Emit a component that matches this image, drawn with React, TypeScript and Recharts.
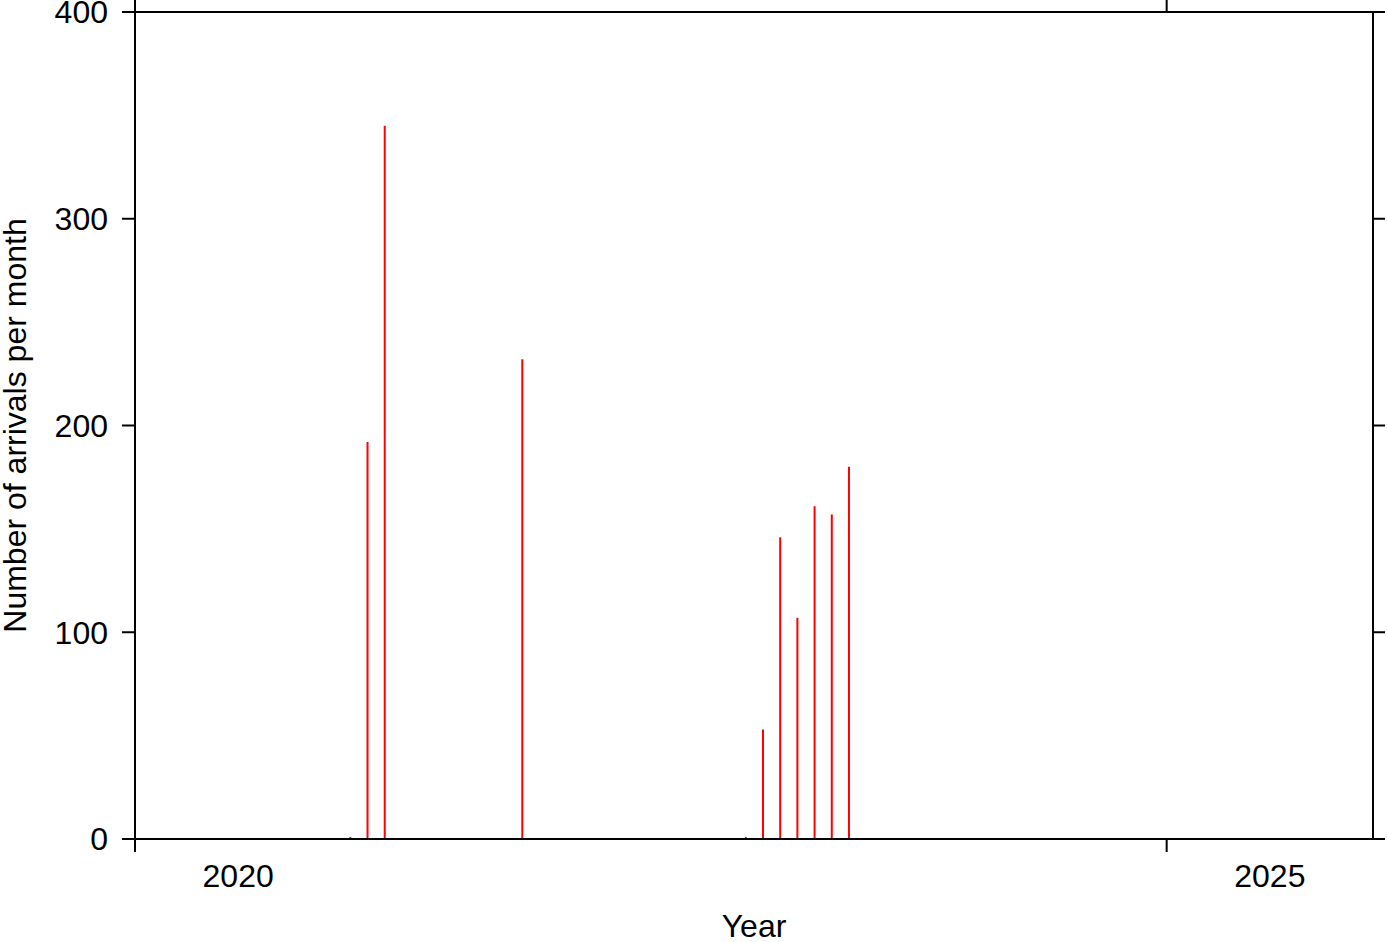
import { Bar, BarChart, XAxis, YAxis } from "recharts";

// monthly arrival counts (only months with arrivals)
const months = ["2021-01", "2021-02", "2021-03", "2021-11", "2022-12", "2023-01", "2023-02", "2023-03", "2023-04", "2023-05", "2023-06"];
const counts = [1, 192, 345, 232, 1, 53, 146, 107, 161, 157, 180];

const yTicks = [0, 100, 200, 300, 400];
const yearTicks = [2020, 2025];
const yearLabelTicks = [2020.5, 2025.5];

const toDecimalYear = (ym: string) => {
  const [y, m] = ym.split("-").map(Number);
  return y + (m - 0.5) / 12;
};

const data = months.map((m, i) => ({ t: toDecimalYear(m), n: counts[i] }));

const FONT = "'Liberation Sans', Arial, Helvetica, sans-serif";
const FS = 32;

function YearTick(props: any) {
  const { x, y, payload } = props;
  const v = payload.value as number;
  if (Number.isInteger(v)) {
    return <line x1={x} x2={x} y1={y} y2={y + 13} stroke="#000" strokeWidth={2} />;
  }
  return (
    <text x={x} y={y + 37} dy="0.355em" textAnchor="middle" fontSize={FS} fill="#000">
      {Math.floor(v)}
    </text>
  );
}

function CountTick(props: any) {
  const { x, y, payload } = props;
  return (
    <text x={x} y={y} dy="0.355em" textAnchor="end" fontSize={FS} fill="#000">
      {payload.value}
    </text>
  );
}

const NoTick = () => <g />;

function YLabel(props: any) {
  const { viewBox } = props;
  const cy = viewBox.y + viewBox.height / 2;
  const x = 26;
  return (
    <text x={x} y={cy} transform={`rotate(-90, ${x}, ${cy})`} textAnchor="middle" fontSize={FS} fill="#000">
      Number of arrivals per month
    </text>
  );
}

export default function App() {
  return (
    <div style={{ position: "absolute", left: 0, top: 0, fontFamily: FONT }}>
      <BarChart
        width={1387}
        height={942}
        data={data}
        margin={{ top: 0, right: 0, bottom: 0, left: 0 }}
        style={{ fontFamily: FONT }}
      >
        <XAxis
          dataKey="t"
          type="number"
          domain={[2020, 2026]}
          ticks={[...yearTicks, ...yearLabelTicks]}
          interval={0}
          height={103}
          tickLine={false}
          tickSize={0}
          tickMargin={0}
          tick={<YearTick />}
          axisLine={{ stroke: "#000", strokeWidth: 2 }}
          label={{ value: "Year", position: "insideBottom", offset: 5, fontSize: FS, fill: "#000" }}
        />
        <XAxis
          xAxisId="top"
          orientation="top"
          dataKey="t"
          type="number"
          domain={[2020, 2026]}
          ticks={yearTicks}
          interval={0}
          height={12}
          tickSize={12}
          tick={<NoTick />}
          tickLine={{ stroke: "#000", strokeWidth: 2 }}
          axisLine={{ stroke: "#000", strokeWidth: 2 }}
        />
        <YAxis
          type="number"
          domain={[0, 400]}
          ticks={yTicks}
          interval={0}
          width={135}
          tickSize={13}
          tickMargin={14}
          tick={<CountTick />}
          tickLine={{ stroke: "#000", strokeWidth: 2 }}
          axisLine={{ stroke: "#000", strokeWidth: 2 }}
          label={<YLabel />}
        />
        <YAxis
          yAxisId="right"
          orientation="right"
          type="number"
          domain={[0, 400]}
          ticks={yTicks}
          interval={0}
          width={14}
          tickSize={12}
          tick={<NoTick />}
          tickLine={{ stroke: "#000", strokeWidth: 2 }}
          axisLine={{ stroke: "#000", strokeWidth: 2 }}
        />
        <Bar dataKey="n" fill="#ff0000" barSize={2} isAnimationActive={false} />
        {/* invisible twin so the frame axes (top/right) get their ticks */}
        <Bar
          dataKey="n"
          xAxisId="top"
          yAxisId="right"
          fill="#ff0000"
          fillOpacity={0}
          barSize={2}
          legendType="none"
          isAnimationActive={false}
        />
      </BarChart>
    </div>
  );
}
